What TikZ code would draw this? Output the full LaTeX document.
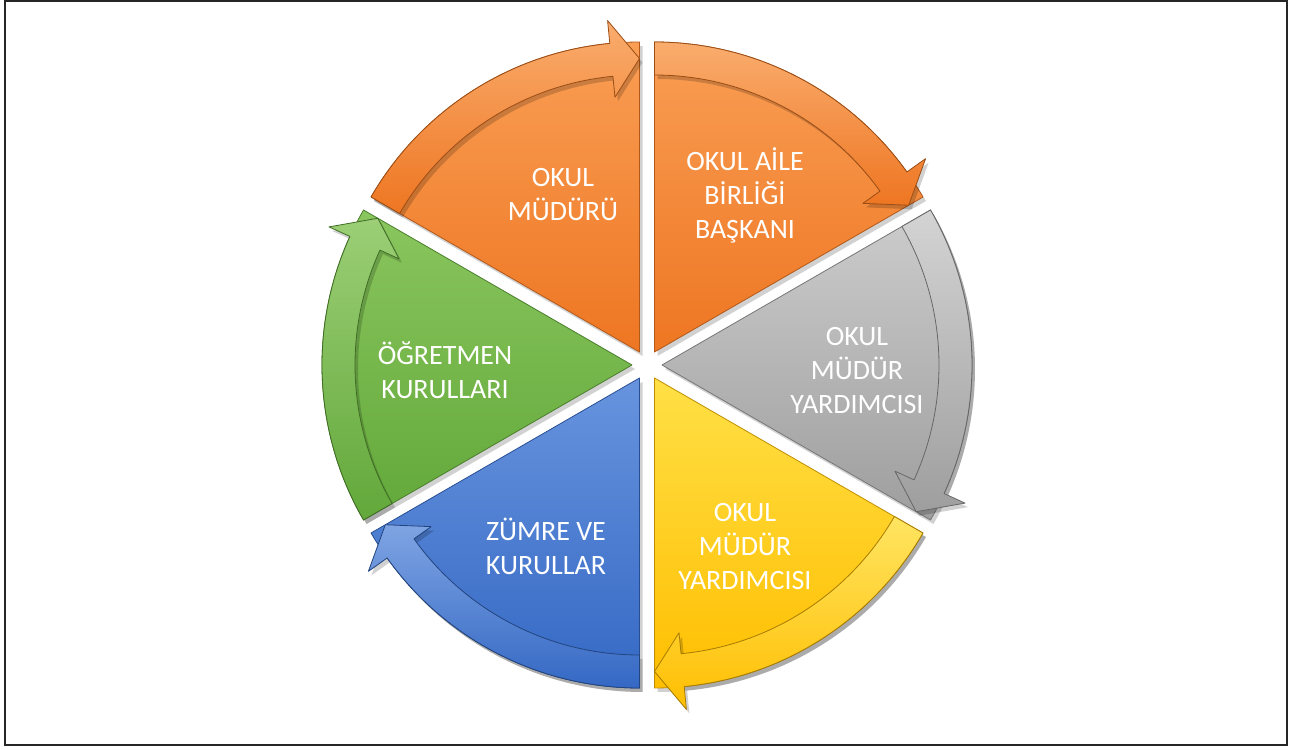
\documentclass[tikz,border=0pt]{standalone}
\usepackage{fontspec}
\setmainfont{Carlito}
\usetikzlibrary{shadows}

\definecolor{orangehi}{RGB}{249,158,84}
\definecolor{orangelo}{RGB}{238,118,34}
\definecolor{grayhi}{RGB}{204,204,204}
\definecolor{graylo}{RGB}{158,158,158}
\definecolor{yellowhi}{RGB}{255,224,70}
\definecolor{yellowlo}{RGB}{255,190,0}
\definecolor{bluehi}{RGB}{104,148,222}
\definecolor{bluelo}{RGB}{52,104,196}
\definecolor{greenhi}{RGB}{138,198,94}
\definecolor{greenlo}{RGB}{98,168,58}

\begin{document}
\begin{tikzpicture}[%
        x=1pt, y=1pt,
        sector/.style={%
            line width=0.8pt,
            line join=round,
            drop shadow={shadow xshift=3pt, shadow yshift=-4pt, opacity=0.18, fill=black},
        },
        label/.style={%
            align=center,
            text=white,
            node font=\fontsize{28}{34}\selectfont,
        },
    ]

    \useasboundingbox (-647,365) rectangle (658,-384);
    \draw [black!85, line width=1.5pt] (-642,364) rectangle (640,-380);

    % wedges and their arrows, clockwise from the top left
    \foreach \s/\e/\b/\col in {150/90/120/orange, 90/30/60/orange, 30/-30/0/gray,
                               -30/-90/-60/yellow, -90/-150/-120/blue, -150/-210/180/green} {%
        \pgfmathsetmacro{\h}{\e+5.5}
        \begin{scope}[shift={(\b:15)}]
            \path [sector, top color=\col hi, bottom color=\col lo, draw=\col lo!75!black]
                (0,0) -- (\s:310) arc[start angle=\s, end angle=\e, radius=310] -- cycle;
            \path [sector, top color=\col hi!85!white, bottom color=\col lo, draw=\col lo!65!black]
                (\s:310) arc[start angle=\s, end angle=\h, radius=310]
                -- (\h:333) -- (\e:293.5) -- (\h:256) -- (\h:277)
                arc[start angle=\h, end angle=\s, radius=277] -- cycle;
        \end{scope}
    }

    \node (mudur_label) at (-84,170) [label] {OKUL\\MÜDÜRÜ};
    \node (aile_birligi_label) at (98,170) [label] {OKUL AİLE\\BİRLİĞİ\\BAŞKANI};
    \node (yardimci_gray_label) at (210,-6) [label] {OKUL\\MÜDÜR\\YARDIMCISI};
    \node (yardimci_yellow_label) at (98,-182) [label] {OKUL\\MÜDÜR\\YARDIMCISI};
    \node (zumre_label) at (-101,-181) [label] {ZÜMRE VE\\KURULLAR};
    \node (ogretmen_label) at (-202,-5) [label] {ÖĞRETMEN\\KURULLARI};
\end{tikzpicture}
\end{document}
